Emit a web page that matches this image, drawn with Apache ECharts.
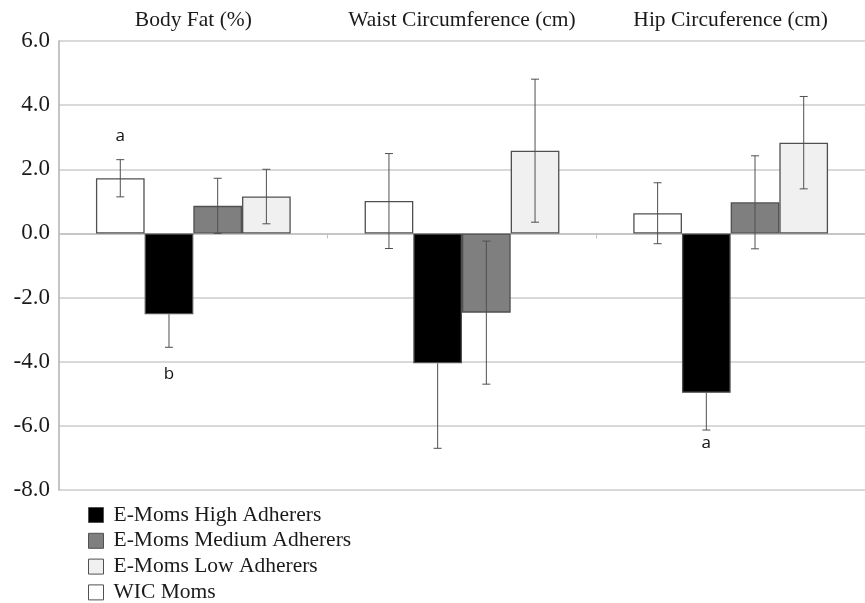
<!DOCTYPE html>
<html>
<head>
<meta charset="utf-8">
<script src="https://cdn.jsdelivr.net/npm/echarts@6/dist/echarts.min.js"></script>
<style>
  html, body { margin: 0; padding: 0; background: #fff; }
  #main { width: 865px; height: 603px; }
</style>
</head>
<body>
<div id="main"></div>
<script>
var categories = ['Body Fat (%)', 'Waist Circumference (cm)', 'Hip Circuference (cm)'];

// bar order inside each group: WIC, High, Medium, Low
var seriesNames = ['WIC Moms', 'E-Moms High Adherers', 'E-Moms Medium Adherers', 'E-Moms Low Adherers'];
var wicMeans    = [1.72, 1.01, 0.63];
var highMeans   = [-2.52, -4.05, -4.97];
var mediumMeans = [0.86, -2.47, 0.97];
var lowMeans    = [1.15, 2.58, 2.83];

var wicErr    = [0.58, 1.48, 0.95];
var highErr   = [1.03, 2.65, 1.16];
var mediumErr = [0.86, 2.23, 1.45];
var lowErr    = [0.85, 2.23, 1.44];

var legendOrder = ['E-Moms High Adherers', 'E-Moms Medium Adherers', 'E-Moms Low Adherers', 'WIC Moms'];
var yTicks = [-8, -6, -4, -2, 0, 2, 4, 6];

// significance letters
var letterText   = ['a', 'b', 'a'];
var letterCat    = [0, 0, 2];
var letterSeries = [0, 1, 1];
var letterY      = [3.04, -4.38, -6.54];

var colors = ['#ffffff', '#000000', '#7f7f7f', '#f0f0f0'];
var means = [wicMeans, highMeans, mediumMeans, lowMeans];
var errs = [wicErr, highErr, mediumErr, lowErr];
var gapRatio = 0.275;

var errData = [];
for (var s = 0; s < 4; s++) {
  for (var c = 0; c < categories.length; c++) {
    errData.push([c, s, means[s][c] - errs[s][c], means[s][c] + errs[s][c], means[s][c]]);
  }
}
var letterData = [];
for (var i = 0; i < letterText.length; i++) {
  letterData.push([letterCat[i], letterSeries[i], letterY[i]]);
}

function barX(api, cat, s) {
  var center = api.coord([cat, 0])[0];
  var band = api.size([1, 0])[0];
  var bw = band * (1 - gapRatio) / 4;
  return center + (s - 1.5) * bw;
}

var chart = echarts.init(document.getElementById('main'));
var serif = '"Liberation Serif", "DejaVu Serif", serif';

var series = [];
for (var k = 0; k < 4; k++) {
  series.push({
    name: seriesNames[k],
    type: 'bar',
    data: means[k],
    barGap: 0,
    barCategoryGap: (gapRatio * 100) + '%',
    itemStyle: { color: colors[k], borderColor: '#505050', borderWidth: 1.3 }
  });
}
series.push({
  type: 'custom',
  name: 'err',
  z: 5,
  data: errData,
  renderItem: function (params, api) {
    var s = api.value(1);
    var x = barX(api, api.value(0), s);
    var yLo = api.coord([0, api.value(2)])[1];
    var yHi = api.coord([0, api.value(3)])[1];
    var yMean = api.coord([0, api.value(4)])[1];
    var st = { stroke: '#505050', lineWidth: 1 };
    var kids = [];
    if (s === 1) {
      // black bar hides the inner half of the whisker
      var outer = api.value(4) < 0 ? yLo : yHi;
      kids.push({ type: 'line', shape: { x1: x, y1: yMean, x2: x, y2: outer }, style: st });
      kids.push({ type: 'line', shape: { x1: x - 4, y1: outer, x2: x + 4, y2: outer }, style: st });
    } else {
      kids.push({ type: 'line', shape: { x1: x, y1: yLo, x2: x, y2: yHi }, style: st });
      kids.push({ type: 'line', shape: { x1: x - 4, y1: yLo, x2: x + 4, y2: yLo }, style: st });
      kids.push({ type: 'line', shape: { x1: x - 4, y1: yHi, x2: x + 4, y2: yHi }, style: st });
    }
    return { type: 'group', children: kids };
  }
});
series.push({
  type: 'custom',
  name: 'letters',
  z: 6,
  data: letterData,
  renderItem: function (params, api) {
    var x = barX(api, api.value(0), api.value(1));
    var y = api.coord([0, api.value(2)])[1];
    return {
      type: 'text',
      style: {
        x: x, y: y,
        text: letterText[params.dataIndex],
        align: 'center', verticalAlign: 'middle',
        font: '17px "Open Sans", "Liberation Sans", sans-serif',
        fill: '#111'
      }
    };
  }
});

chart.setOption({
  animation: false,
  backgroundColor: '#ffffff',
  grid: { left: 59, right: 0, top: 41, bottom: 113 },
  legend: {
    data: legendOrder,
    orient: 'vertical',
    left: 88,
    top: 504,
    height: 110,
    itemWidth: 15,
    itemHeight: 15,
    itemGap: 3.8,
    padding: 0,
    icon: 'rect',
    itemStyle: { borderColor: '#505050', borderWidth: 1 },
    textStyle: { fontFamily: serif, fontSize: 21.5, lineHeight: 21, color: '#1a1a1a', padding: [0, 0, 0, 5] }
  },
  xAxis: [{
    type: 'category',
    data: categories,
    axisLine: { onZero: true, lineStyle: { color: '#c0c0c0', width: 1.5 } },
    axisTick: { show: true, length: 5, lineStyle: { color: '#c0c0c0' } },
    axisLabel: { show: false },
    splitLine: { show: false }
  }, {
    type: 'category',
    position: 'top',
    data: categories,
    axisLine: { show: false },
    axisTick: { show: false },
    axisLabel: { interval: 0, margin: 10, fontFamily: serif, fontSize: 21.5, color: '#1a1a1a' }
  }],
  yAxis: {
    type: 'value',
    min: yTicks[0],
    max: yTicks[yTicks.length - 1],
    interval: 2,
    axisLine: { show: true, lineStyle: { color: '#b0b0b0', width: 1.5 } },
    axisTick: { show: false },
    splitLine: { lineStyle: { color: '#cccccc', width: 1.5 } },
    axisLabel: {
      margin: 9,
      fontFamily: serif,
      fontSize: 23,
      color: '#1a1a1a',
      formatter: function (v) { return v.toFixed(1); }
    }
  },
  series: series
});
</script>
</body>
</html>
